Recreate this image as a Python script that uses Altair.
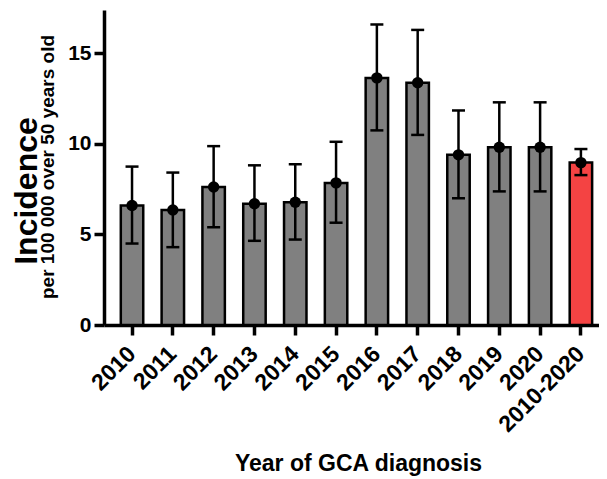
import altair as alt
import pandas as pd

categories = ["2010", "2011", "2012", "2013", "2014", "2015", "2016", "2017",
              "2018", "2019", "2020", "2010-2020"]
incidence = [6.6, 6.35, 7.62, 6.7, 6.78, 7.85, 13.65, 13.38, 9.4, 9.82, 9.82, 8.97]
ci_low = [4.5, 4.3, 5.4, 4.65, 4.72, 5.65, 10.75, 10.5, 7.0, 7.38, 7.38, 8.28]
ci_high = [8.75, 8.42, 9.88, 8.82, 8.88, 10.12, 16.6, 16.3, 11.85, 12.3, 12.3, 9.72]
bar_colors = ["#808080"] * 11 + ["#F44343"]

df = pd.DataFrame({
    "year": categories,
    "inc": incidence,
    "lo": ci_low,
    "hi": ci_high,
    "col": bar_colors,
})

FONT = "Liberation Sans"

x = alt.X(
    "year:N",
    sort=categories,
    scale=alt.Scale(paddingInner=0.45, paddingOuter=0.29, align=0.71),
    axis=alt.Axis(
        title="Year of GCA diagnosis",
        labelAngle=-45,
        labelAlign="right",
        labelBaseline="middle",
        labelFontSize=23,
        labelFontWeight="bold",
        labelFont=FONT,
        labelColor="black",
        labelPadding=15,
        titleFontSize=23,
        titleFontWeight="bold",
        titleFont=FONT,
        titleColor="black",
        titlePadding=16,
        titleX=254,
        domainColor="black",
        domainWidth=3.5,
        tickColor="black",
        tickWidth=3.5,
        tickSize=10,
    ),
)

y_axis = alt.Axis(
    title=None,
    values=[0, 5, 10, 15],
    labelFontSize=21,
    labelFontWeight="bold",
    labelFont=FONT,
    labelColor="black",
    labelPadding=3,
    domainColor="black",
    domainWidth=3.5,
    tickColor="black",
    tickWidth=3.5,
    tickSize=10,
    grid=False,
)
y_scale = alt.Scale(domain=[0, 17.4], nice=False, zero=True)

base = alt.Chart(df)

bars = base.mark_bar(stroke="black", strokeWidth=2.5).encode(
    x=x,
    y=alt.Y("inc:Q", scale=y_scale, axis=y_axis),
    fill=alt.Fill("col:N", scale=None),
)

rules = base.mark_rule(color="black", strokeWidth=2.5).encode(
    x=alt.X("year:N", sort=categories),
    y=alt.Y("lo:Q", scale=y_scale),
    y2="hi:Q",
)

cap_hi = base.mark_tick(color="black", size=13, thickness=2.5, opacity=1).encode(
    x=alt.X("year:N", sort=categories),
    y=alt.Y("hi:Q", scale=y_scale),
)
cap_lo = base.mark_tick(color="black", size=13, thickness=2.5, opacity=1).encode(
    x=alt.X("year:N", sort=categories),
    y=alt.Y("lo:Q", scale=y_scale),
)

dots = base.mark_point(filled=True, color="black", size=130, opacity=1).encode(
    x=alt.X("year:N", sort=categories),
    y=alt.Y("inc:Q", scale=y_scale),
)

title_df = pd.DataFrame({"t": ["Incidence"]})
sub_df = pd.DataFrame({"t": ["per 100 000 over 50 years old"]})

ytitle = alt.Chart(title_df).mark_text(
    angle=270, font=FONT, fontSize=32, fontWeight="bold", color="black",
    align="center", baseline="middle",
).encode(text="t:N", x=alt.value(-77), y=alt.value(181))

ysub = alt.Chart(sub_df).mark_text(
    angle=270, font=FONT, fontSize=19, fontWeight="bold", color="black",
    align="center", baseline="middle",
).encode(text="t:N", x=alt.value(-56), y=alt.value(157))

chart = alt.layer(bars, rules, cap_hi, cap_lo, dots, ytitle, ysub).properties(
    width=495,
    height=315,
    padding={"left": 96, "top": 2, "right": 0, "bottom": 154},
    autosize=alt.AutoSizeParams(type="none"),
    background="white",
).configure_view(stroke=None)

chart.save("out.html", embed_options={"renderer": "svg", "actions": False})
